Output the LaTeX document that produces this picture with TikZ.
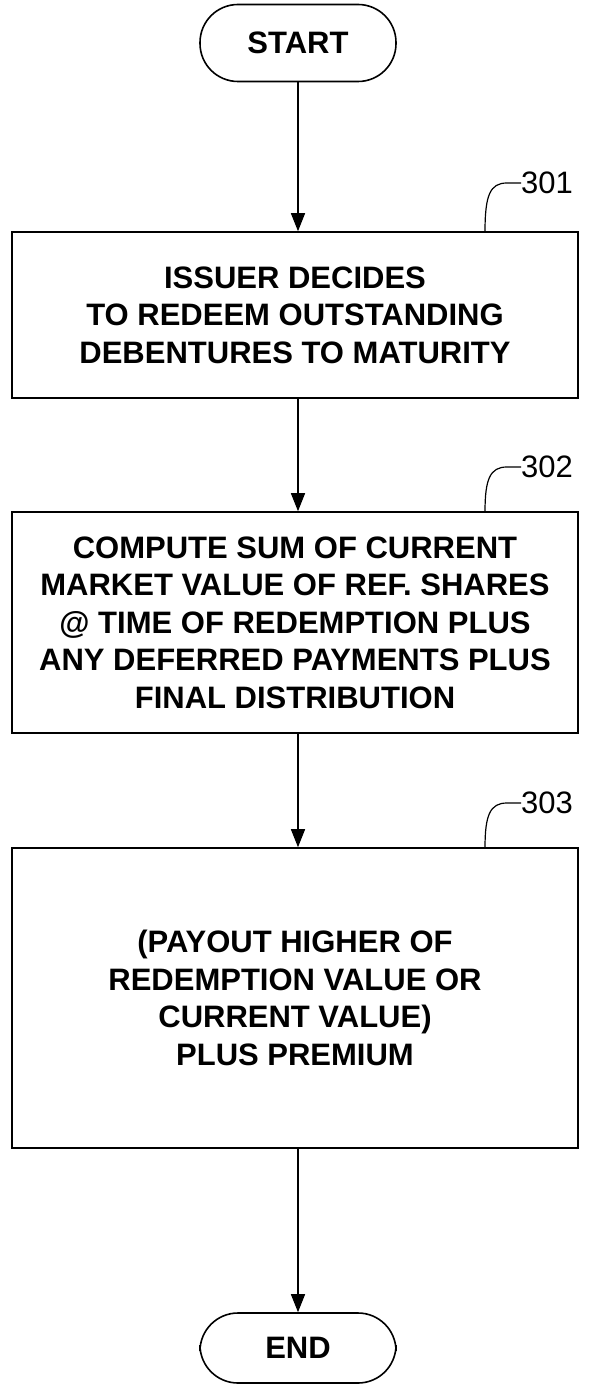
\documentclass[tikz,border=0pt]{standalone}
\usepackage{fontspec}
\setmainfont{Liberation Sans}
\usetikzlibrary{arrows.meta}
\begin{document}
\begin{tikzpicture}[x=1pt,y=-1pt,
  term/.style={draw,line width=1.6pt,rounded corners=38pt,minimum width=196pt,minimum height=77pt,inner sep=0pt,font=\bfseries\fontsize{31}{36}\selectfont},
  stepbox/.style={draw,line width=1.6pt,minimum width=566pt,inner sep=0pt,align=center,font=\bfseries\fontsize{31}{37.5}\selectfont},
  conn/.style={line width=1.3pt,-{Triangle[length=18pt,width=14pt]}},
  ref/.style={inner sep=0pt,anchor=west,font=\fontsize{31}{36}\selectfont},
  lead/.style={line width=1.2pt}]
\useasboundingbox (0,0) rectangle (589,1386);
\node[term] (start) at (298,43) {START};
\node[stepbox,minimum height=166pt] (b1) at (295,315) {ISSUER DECIDES\\TO REDEEM OUTSTANDING\\DEBENTURES TO MATURITY};
\node[stepbox,minimum height=221pt] (b2) at (295,622.5) {COMPUTE SUM OF CURRENT\\MARKET VALUE OF REF. SHARES\\@ TIME OF REDEMPTION PLUS\\ANY DEFERRED PAYMENTS PLUS\\FINAL DISTRIBUTION};
\node[stepbox,minimum height=300pt] (b3) at (295,998) {(PAYOUT HIGHER OF\\REDEMPTION VALUE OR\\CURRENT VALUE)\\PLUS PREMIUM};
\node[term,minimum height=70pt] (end) at (298,1348) {END};
\draw[conn] (start.south) -- (start.south |- b1.north);
\draw[conn] (b1.south -| start.south) -- (start.south |- b2.north);
\draw[conn] (b2.south -| start.south) -- (start.south |- b3.north);
\draw[conn] (b3.south -| start.south) -- (end.north);
\node[ref] (l1) at (521,183) {301};
\node[ref] (l2) at (521,467) {302};
\node[ref] (l3) at (521,803) {303};
\coordinate (c1) at (485,232);
\coordinate (c2) at (485,512);
\coordinate (c3) at (485,848);
\draw[lead] (l1.west) -- ++(-14,0) .. controls (490,183) and (485,195) .. (c1);
\draw[lead] (l2.west) -- ++(-14,0) .. controls (490,467) and (485,479) .. (c2);
\draw[lead] (l3.west) -- ++(-14,0) .. controls (490,803) and (485,815) .. (c3);
\end{tikzpicture}
\end{document}
